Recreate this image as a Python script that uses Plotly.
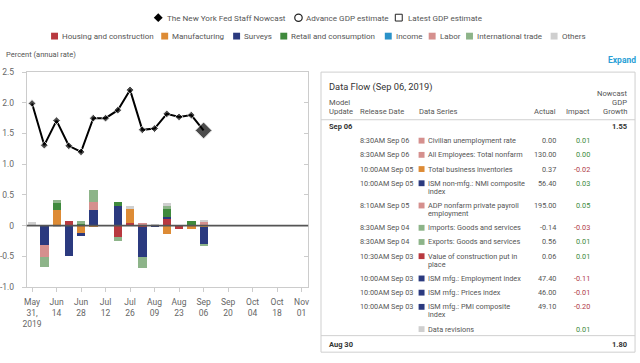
import plotly.graph_objects as go

# ---------------- data ----------------
dates = ['2019-05-31', '2019-06-07', '2019-06-14', '2019-06-21', '2019-06-28',
         '2019-07-05', '2019-07-12', '2019-07-19', '2019-07-26', '2019-08-02',
         '2019-08-09', '2019-08-16', '2019-08-23', '2019-08-30', '2019-09-06']
nowcast = [1.99, 1.31, 1.71, 1.30, 1.20, 1.75, 1.75, 1.88, 2.21, 1.56,
           1.58, 1.82, 1.77, 1.80, 1.55]

categories = ['Housing and construction', 'Manufacturing', 'Surveys',
              'Retail and consumption', 'Income', 'Labor',
              'International trade', 'Others']
housing = [0, 0, 0, 0.08, 0, 0, 0, -0.19, 0.04, -0.02, 0, 0.12, -0.06, 0, 0.01]
manufacturing = [0, 0, 0.25, 0, -0.13, -0.03, 0, 0, 0.23, 0, 0, -0.14, 0, -0.05, -0.02]
surveys = [0, -0.31, 0, -0.50, -0.04, 0.25, 0, 0.32, 0, -0.49, -0.03, 0.02, 0, 0, -0.29]
retail = [0, 0, 0.13, 0, 0.04, 0, 0, 0.06, 0, 0, 0, 0.13, 0, 0.08, 0]
income = [0, 0, 0, 0, 0, 0, 0, 0, 0, 0, 0, 0, 0, 0, 0]
labor = [0, -0.20, 0, 0, 0, 0.14, 0, 0, 0, 0.04, 0, 0, 0, 0, 0.06]
intl_trade = [0, -0.17, 0.03, 0, 0.03, 0.19, 0, -0.07, 0, -0.19, 0, 0.04, 0, 0, -0.02]
others = [0.06, 0, -0.02, 0, 0, 0, 0, 0, 0.05, 0, 0.02, 0.06, 0, 0, 0.01]
series_values = [housing, manufacturing, surveys, retail, income, labor, intl_trade, others]
cat_colors = ['#b8393f', '#dd8b35', '#2b3a7f', '#3f8a3d', '#2a92c9',
              '#d5908e', '#8db489', '#cfcfcf']

x_tickvals = ['2019-05-31', '2019-06-14', '2019-06-28', '2019-07-12', '2019-07-26',
              '2019-08-09', '2019-08-23', '2019-09-06', '2019-09-20', '2019-10-04',
              '2019-10-18', '2019-11-01']
x_ticktext = ['May<br>31,<br>2019', 'Jun<br>14', 'Jun<br>28', 'Jul<br>12', 'Jul<br>26',
              'Aug<br>09', 'Aug<br>23', 'Sep<br>06', 'Sep<br>20', 'Oct<br>04',
              'Oct<br>18', 'Nov<br>01']
y_tickvals = [-1.0, -0.5, 0, 0.5, 1.0, 1.5, 2.0, 2.5]
y_ticktext = ['-1.0', '-0.5', '0', '0.5', '1.0', '1.5', '2.0', '2.5']

# data flow table
release_times = ['8:30AM Sep 06', '8:30AM Sep 06', '10:00AM Sep 05', '10:00AM Sep 05',
                 '8:10AM Sep 05', '8:30AM Sep 04', '8:30AM Sep 04', '10:30AM Sep 03',
                 '10:00AM Sep 03', '10:00AM Sep 03', '10:00AM Sep 03', '']
data_series = ['Civilian unemployment rate', 'All Employees: Total nonfarm',
               'Total business inventories', 'ISM non-mfg.: NMI composite<br>index',
               'ADP nonfarm private payroll<br>employment', 'Imports: Goods and services',
               'Exports: Goods and services', 'Value of construction put in<br>place',
               'ISM mfg.: Employment index', 'ISM mfg.: Prices index',
               'ISM mfg.: PMI composite<br>index', 'Data revisions']
series_cat = ['Labor', 'Labor', 'Manufacturing', 'Surveys', 'Labor',
              'International trade', 'International trade', 'Housing and construction',
              'Surveys', 'Surveys', 'Surveys', 'Others']
actual = ['0.00', '130.00', '0.37', '56.40', '195.00', '-0.14', '0.56', '0.06',
          '47.40', '46.00', '49.10', '']
impact = [0.01, 0.00, -0.02, 0.03, 0.05, -0.03, 0.01, 0.01, -0.11, -0.01, -0.20, 0.01]
update_dates = ['Sep 06', 'Aug 30']
update_values = ['1.55', '1.80']

legend_top = ['The New York Fed Staff Nowcast', 'Advance GDP estimate', 'Latest GDP estimate']

# ---------------- layout helpers ----------------
W, H = 640, 363
FONT = "Roboto, sans-serif"


def X(px):
    return px / W


def Y(py):
    return 1 - py / H


DAY = 86400000

fig = go.Figure()

for name, vals, col in zip(categories, series_values, cat_colors):
    fig.add_trace(go.Bar(x=dates, y=vals, name=name, marker_color=col,
                         marker_line_width=0, width=4.7 * DAY, showlegend=False))

fig.add_trace(go.Scatter(x=dates, y=nowcast, mode='lines+markers',
                         line=dict(color='black', width=2),
                         marker=dict(symbol='diamond', size=[6] * (len(dates) - 1) + [13],
                                     color='black'),
                         showlegend=False))
# right-hand inside ticks
fig.add_trace(go.Scatter(x=[dates[0]], y=[None], yaxis='y2', showlegend=False))

ann = []
shapes = []


def text(x, y, t, size=9, color='#555', xanchor='left', bold=False):
    if bold:
        t = '<b>' + t + '</b>'
    ann.append(dict(x=X(x), y=Y(y), xref='paper', yref='paper', text=t, showarrow=False,
                    xanchor=xanchor, yanchor='middle', borderpad=0,
                    font=dict(family=FONT, size=size, color=color)))


def rect(x0, y0, x1, y1, fill=None, line=None, lw=1):
    shapes.append(dict(type='rect', xref='paper', yref='paper', x0=X(x0), x1=X(x1),
                       y0=Y(y0), y1=Y(y1), fillcolor=fill or 'rgba(0,0,0,0)',
                       line=dict(color=line or 'rgba(0,0,0,0)', width=lw if line else 0)))


def hline(x0, x1, y, color='#d0d0d0', lw=1):
    shapes.append(dict(type='line', xref='paper', yref='paper', x0=X(x0), x1=X(x1),
                       y0=Y(y), y1=Y(y), line=dict(color=color, width=lw)))


LEG1 = 8.1
LEG2 = 8.0
TAB = 7.3
HEAD = 7.6

# ---- top legend row 1 ----
shapes.append(dict(type='path', xref='paper', yref='paper',
                   path=f'M {X(154.7)} {Y(8.5)} L {X(159.2)} {Y(13)} L {X(154.7)} {Y(17.5)} L {X(150.2)} {Y(13)} Z',
                   fillcolor='black', line=dict(width=0)))
text(162.5, 13, legend_top[0], size=LEG1)
shapes.append(dict(type='circle', xref='paper', yref='paper', x0=X(292.5), x1=X(300),
                   y0=Y(9.3), y1=Y(16.8), line=dict(color='#222', width=1.2)))
text(303, 13, legend_top[1], size=LEG1)
rect(394, 9.5, 401, 16.5, line='#222', lw=1)
text(405.5, 13, legend_top[2], size=LEG1)

# ---- top legend row 2 ----
sq_x = [50, 161.2, 233.8, 281.4, 386.9, 431.2, 468.9, 554.3]
tx_x = [57, 168, 240.5, 288, 393.5, 438, 475.5, 561]
for cx, tx, name, col in zip(sq_x, tx_x, categories, cat_colors):
    rect(cx - 3.5, 28.5, cx + 3.5, 35.5, fill=col)
    text(tx, 32, name, size=LEG2)

text(-0.5, 51, 'Percent (annual rate)', size=7.5, color='#555')
text(638, 57, '<b>Expand</b>', size=8.5, color='#2a9fd6', xanchor='right')

# ---- data flow table ----
rect(319, 69, 636, 357, line='#cfcfcf', lw=1)
text(326, 84, 'Data Flow (Sep 06, 2019)', size=9.3, color='#333')
text(326, 100, 'Model', size=HEAD)
text(326, 110, 'Update', size=HEAD)
text(357.5, 110, 'Release Date', size=HEAD)
text(416.5, 110, 'Data Series', size=HEAD)
text(557.5, 110, 'Actual', size=HEAD, xanchor='right')
text(591.5, 110, 'Impact', size=HEAD, xanchor='right')
text(628.5, 91, 'Nowcast', size=HEAD, xanchor='right')
text(628.5, 100.5, 'GDP', size=HEAD, xanchor='right')
text(628.5, 110, 'Growth', size=HEAD, xanchor='right')
hline(319, 636, 118)

text(326, 125, update_dates[0], size=7.5, color='#333', bold=True)
text(628.5, 125, update_values[0], size=7.5, color='#333', xanchor='right', bold=True)

row_y = 139.5
for rt, ds, cat, act, imp in zip(release_times, data_series, series_cat, actual, impact):
    lines = ds.split('<br>')
    text(357.5, row_y, rt, size=TAB)
    col = cat_colors[categories.index(cat)]
    rect(417.5, row_y - 3, 423.5, row_y + 3, fill=col)
    for i, ln in enumerate(lines):
        text(426, row_y + 8.3 * i, ln, size=TAB)
    text(557.5, row_y, act, size=TAB, xanchor='right')
    icol = '#3a8a3a' if imp >= 0 else '#b03a4a'
    text(591.5, row_y, f'{imp:.2f}', size=TAB, color=icol, xanchor='right')
    row_y += 14.6 + 8.3 * (len(lines) - 1)

hline(319, 636, 340)
text(326, 349, update_dates[1], size=7.5, color='#333', bold=True)
text(628.5, 349, update_values[1], size=7.5, color='#333', xanchor='right', bold=True)

# zero line
shapes.append(dict(type='line', xref='x domain', yref='y', x0=0, x1=1, y0=0, y1=0,
                   line=dict(color='#555', width=1.6), layer='above'))

fig.update_layout(
    width=W, height=H, margin=dict(l=0, r=0, t=0, b=0),
    paper_bgcolor='white', plot_bgcolor='white',
    barmode='relative', bargap=0,
    font=dict(family=FONT, size=8.5, color='#666'),
    xaxis=dict(type='date', domain=[X(22), X(306)],
               range=['2019-05-28', '2019-11-04 18:00'],
               tickvals=x_tickvals, ticktext=x_ticktext, tickangle=0,
               ticks='outside', ticklen=4, tickcolor='#ccc', ticklabelstandoff=3,
               showline=True, linecolor='#ccc', mirror=True, showgrid=False,
               zeroline=False, tickfont=dict(size=8.5, color='#666')),
    yaxis=dict(domain=[Y(290), Y(69)], range=[-1.0, 2.5],
               tickvals=y_tickvals, ticktext=y_ticktext,
               ticks='outside', ticklen=4, tickcolor='#ccc', ticklabelstandoff=6,
               showline=True, linecolor='#ccc', mirror=True, showgrid=False,
               zeroline=False, tickfont=dict(size=8.5, color='#666')),
    yaxis2=dict(overlaying='y', side='right', range=[-1.0, 2.5], tickvals=y_tickvals,
                ticks='inside', ticklen=4, tickcolor='#ccc', showticklabels=False,
                showgrid=False, zeroline=False, showline=False),
    annotations=ann, shapes=shapes,
)

fig.write_html('out.html', config={'displayModeBar': False},
               post_script="document.body.style.margin='0';document.body.style.padding='0';")
